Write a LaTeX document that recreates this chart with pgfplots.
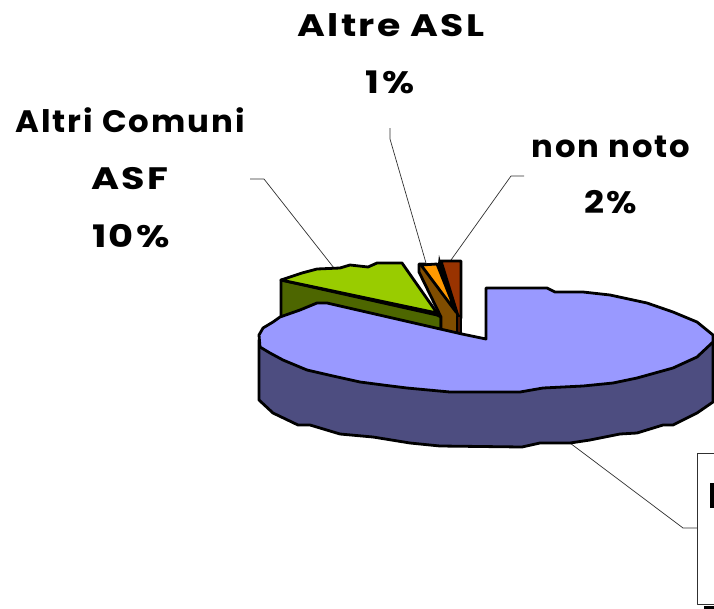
\documentclass[border=0pt]{standalone}
\usepackage{graphicx}
\usepackage{pgfplots}
\pgfplotsset{compat=1.18}
\usepackage{fontspec}
\setmainfont{Poppins}[LetterSpace=6]
\definecolor{bluetop}{HTML}{9999FF}
\definecolor{blueside}{HTML}{4D4D80}
\definecolor{greentop}{HTML}{99CC00}
\definecolor{greenside}{HTML}{4D6600}
\definecolor{orangetop}{HTML}{FF9900}
\definecolor{orangeside}{HTML}{804D00}
\definecolor{redtop}{HTML}{993300}
\definecolor{redside}{HTML}{4D1A00}
\definecolor{lead}{HTML}{303030}
\tikzset{lbl/.style={font=\fontseries{sb}\fontsize{31}{31}\selectfont, text=black, inner sep=0pt, anchor=base}}
\begin{document}
\begin{tikzpicture}
\begin{axis}[
  scale only axis, width=714pt, height=608pt,
  xmin=0, xmax=714, ymin=0, ymax=608, y dir=reverse,
  hide axis, clip=true, anchor=south west, at={(0,0)},
  every axis plot/.style={line join=round}
]
% leader lines
\addplot[lead, line width=0.7pt] coordinates {(250,179) (264,179) (334,268)};
\addplot[lead, line width=0.7pt] coordinates {(390,128) (390,139) (426,263)};
\addplot[lead, line width=0.7pt] coordinates {(524,176) (511,176) (451,260)};
\addplot[lead, line width=0.7pt] coordinates {(570,443) (683,528) (697,528)};
% label box
\addplot[fill=white, draw=lead, line width=0.9pt] coordinates {(697,453) (720,453) (720,604) (697,604)} -- cycle;
\addplot[fill=black, draw=none] coordinates {(710,483) (720,483) (720,508) (710,508)} -- cycle;
\addplot[fill=black, draw=none] coordinates {(704,606) (720,606) (720,612) (704,612)} -- cycle;
% green slice
\addplot[fill=greenside, draw=black, line width=2.8pt] coordinates {(281,280) (437,315) (441,317) (441,332) (281,330)} -- cycle;
\addplot[fill=greentop, draw=black, line width=2.8pt] coordinates {(281,280) (302,273) (317,269) (340,268) (350,265) (368,267) (377,263) (402,263) (437,313)} -- cycle;
% orange slice
\addplot[fill=orangeside, draw=black, line width=2.8pt] coordinates {(419,264) (419,272) (441,317) (441,332) (458,336) (460,312) (425,264)} -- cycle;
\addplot[fill=orangetop, draw=black, line width=2.8pt] coordinates {(421,265) (437,264) (456,312)} -- cycle;
% red slice
\addplot[fill=redtop, draw=black, line width=2.8pt] coordinates {(441,261) (461,261) (461,318) (458,316)} -- cycle;
\addplot[fill=redside, draw=black, line width=2.8pt] coordinates {(457,316) (461,316) (461,336) (457,336)} -- cycle;
\addplot[fill=black, draw=none] coordinates {(439,255) (442,266) (459,316) (456,314) (438,264)} -- cycle;
% blue side
\addplot[fill=blueside, draw=black, line width=2.8pt] coordinates {(259,340) (713,340) (713,402) (697,413) (673,425) (663,425) (637,433) (620,434) (590,440) (570,443) (540,443) (522,447) (440,446) (410,443) (373,437) (340,434) (310,425) (298,425) (273,413) (259,400)} -- cycle;
% blue top
\addplot[fill=bluetop, draw=black, line width=2.8pt] coordinates {(486,339) (486,288) (547,288) (555,292) (583,292) (610,295) (647,303) (673,312) (697,322) (713,335) (713,342) (697,357) (673,368) (637,378) (613,383) (583,386) (543,388) (520,392) (450,392) (407,388) (383,385) (360,382) (333,376) (307,370) (283,360) (270,353) (260,347) (259,335) (263,328) (273,322) (280,317) (300,310) (317,303) (327,303) (462,334)} -- cycle;
% labels
\node[lbl] at (axis cs:391,36) {\scalebox{1.22}[1]{Altre ASL}};
\node[lbl] at (axis cs:390,93) {\scalebox{1.19}[1]{1\%}};
\node[lbl] at (axis cs:130,132) {\scalebox{1.045}[1]{Altri Comuni}};
\node[lbl] at (axis cs:130,189) {\scalebox{1.23}[1]{ASF}};
\node[lbl] at (axis cs:131,247) {\scalebox{1.24}[1]{10\%}};
\node[lbl] at (axis cs:611,157) {\scalebox{1.04}[1]{non noto}};
\node[lbl] at (axis cs:611,213) {\scalebox{1.13}[1]{2\%}};
\end{axis}
\pgfresetboundingbox
\path[use as bounding box] (0,0) rectangle (714pt,608pt);
\end{tikzpicture}
\end{document}
